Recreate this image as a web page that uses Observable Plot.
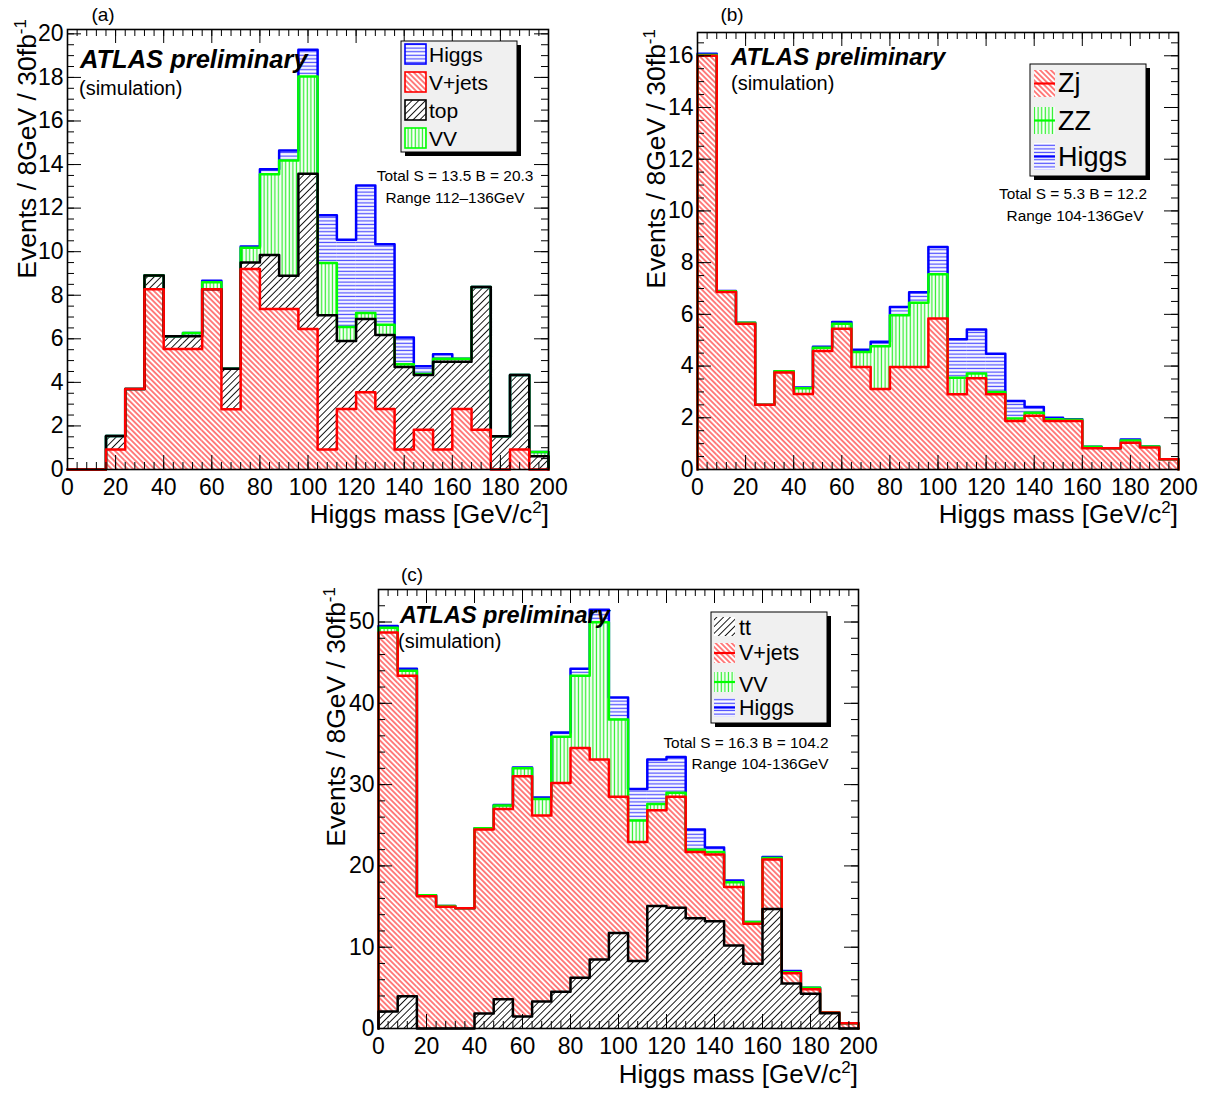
<!DOCTYPE html>
<html><head><meta charset="utf-8">
<script src="https://cdn.jsdelivr.net/npm/d3@7"></script>
<script src="https://cdn.jsdelivr.net/npm/@observablehq/plot@0.6"></script>
<style>
body{margin:0;background:#fff;}
#root{position:relative;width:1206px;height:1093px;overflow:hidden;font-family:"Liberation Sans",Arial,Helvetica,sans-serif;}
#overlay{position:absolute;left:0;top:0;pointer-events:none;}
</style></head>
<body><div id="root">
<svg id="overlay" width="1206" height="1093" xmlns="http://www.w3.org/2000/svg">
<defs>
<pattern id="pRed" patternUnits="userSpaceOnUse" width="3.8" height="3.8" patternTransform="rotate(-45)"><line x1="1.9" y1="0" x2="1.9" y2="3.8" stroke="#ff0000" stroke-width="1"/></pattern>
<pattern id="pRedC" patternUnits="userSpaceOnUse" width="3.8" height="3.8" patternTransform="rotate(-45)"><line x1="1.9" y1="0" x2="1.9" y2="3.8" stroke="#ff0000" stroke-width="1"/></pattern>
<pattern id="pBlack" patternUnits="userSpaceOnUse" width="4.8" height="4.8" patternTransform="rotate(45)"><line x1="2.4" y1="0" x2="2.4" y2="4.8" stroke="#000" stroke-width="0.9"/></pattern>
<pattern id="pGreen" patternUnits="userSpaceOnUse" width="3.6" height="3.6"><line x1="1.3" y1="0" x2="1.3" y2="3.6" stroke="#33ee33" stroke-width="1.3"/></pattern>
<pattern id="pBlue" patternUnits="userSpaceOnUse" width="3.6" height="3.6"><line x1="0" y1="1.3" x2="3.6" y2="1.3" stroke="#4f4fff" stroke-width="1.3"/></pattern>
</defs>
</svg>
</div>
<script>
// ---------- data ----------
const binLow = [0,8,16,24,32,40,48,56,64,72,80,88,96,104,112,120,128,136,144,152,160,168,176,184,192];
const binWidth = 8;
const xMax = 200;
const xMajor = [0,20,40,60,80,100,120,140,160,180,200];

// Panel (a)
const aVjets = [0,0,0.92,3.70,8.27,5.53,5.53,8.27,2.77,9.20,7.37,7.37,6.45,0.92,2.78,3.55,2.78,0.92,1.83,0.92,2.78,1.83,0,0.92,0];
const aTop   = [0,0,0.62,0,0.64,0.59,0.59,0,1.86,0.30,2.48,1.53,7.13,6.16,3.12,3.36,3.40,3.79,2.51,4.03,2.17,6.55,1.53,3.42,0.61];
const aVV    = [0,0,0,0,0,0,0.15,0.33,0,0.68,3.70,5.29,4.46,2.40,0.64,0.28,0.46,0.12,0.04,0.13,0.13,0,0,0,0.19];
const aHiggs = [0,0,0,0,0,0,0,0.07,0,0.06,0.23,0.46,1.23,2.19,4.01,5.85,3.70,1.23,0.36,0.21,0,0,0,0,0];
const aYMajor = [0,2,4,6,8,10,12,14,16,18,20];

// Panel (b)
const bZj    = [16.0,6.86,5.64,2.50,3.75,2.92,4.58,5.44,3.96,3.11,3.96,3.96,5.84,2.91,3.53,2.91,1.88,2.08,1.88,1.88,0.82,0.82,1.03,0.85,0.40];
const bZZ    = [0.03,0.03,0.04,0,0.05,0.22,0.13,0.20,0.58,1.66,2.01,2.49,1.71,0.64,0.18,0.09,0.09,0.11,0.06,0.04,0.06,0,0.09,0.04,0];
const bHiggs = [0.05,0.01,0,0,0,0.03,0.04,0.06,0.09,0.17,0.31,0.40,1.05,1.49,1.70,1.48,0.68,0.23,0.06,0.02,0,0,0.04,0,0];
const bYMajor = [0,2,4,6,8,10,12,14,16];

// Panel (c)
const cTT    = [2.09,3.98,0,0,0,1.85,3.61,1.48,3.33,4.52,6.24,8.50,11.74,8.29,15.07,14.86,13.55,13.20,10.20,7.96,14.70,5.54,4.27,1.89,0];
const cVjets = [46.61,39.42,16.26,14.98,14.78,22.62,23.39,29.55,22.87,25.68,28.26,24.60,16.76,14.66,11.78,13.64,8.15,8.20,7.20,4.94,6.10,1.27,0.57,0.08,0.66];
const cVV    = [0.60,0.60,0.12,0.09,0,0.16,0.42,0.97,2.04,5.70,8.90,16.86,9.50,2.65,0.75,0.50,0.30,0.30,0.60,0.20,0.18,0.10,0.16,0,0];
const cHiggs = [0.20,0.25,0,0,0,0,0.08,0.10,0.16,0.50,0.85,1.54,2.70,3.87,5.50,4.40,2.47,0.55,0.20,0,0.12,0.15,0,0,0];
const cYMajor = [0,10,20,30,40,50];

const FONT = "'Liberation Sans', Arial, Helvetica, sans-serif";
const root = document.getElementById("root");

function makePanel(cfg) {
  const {left, top, W, H, mL, mR, mT, mB, yMax, layers, yMajor, yMinorStep, lineW} = cfg;
  const fh = H - mT - mB, fw = W - mL - mR;
  const xMinor = d3.range(0, xMax + 0.001, 4);
  const yMinor = d3.range(0, yMax, yMinorStep);
  let lower = binLow.map(() => 0);
  const stack = layers.map(L => {
    const upper = lower.map((l, i) => l + L.values[i]);
    const rows = binLow.map((b, i) => ({x1: b, x2: b + binWidth, y1: lower[i], y2: upper[i]}))
      .filter(r => r.y2 > r.y1 + 1e-9);
    const pts = [{x: binLow[0], y: 0}, ...binLow.map((b, i) => ({x: b, y: upper[i]})),
      {x: xMax, y: upper[upper.length - 1]}, {x: xMax, y: 0}];
    lower = upper;
    return {L, rows, pts};
  });
  const marks = [];
  stack.forEach(s => marks.push(Plot.rect(s.rows, {x1: "x1", x2: "x2", y1: "y1", y2: "y2", fill: s.L.fill})));
  stack.slice().reverse().forEach(s => marks.push(Plot.line(s.pts, {x: "x", y: "y", curve: "step-after", stroke: s.L.stroke, strokeWidth: lineW})));
  // inward ticks on all four sides
  marks.push(Plot.tickX(xMinor, {x: d => d, insetTop: fh - 7, stroke: "#000"}));
  marks.push(Plot.tickX(xMajor, {x: d => d, insetTop: fh - 14, stroke: "#000"}));
  marks.push(Plot.tickX(xMinor, {x: d => d, insetBottom: fh - 7, stroke: "#000"}));
  marks.push(Plot.tickX(xMajor, {x: d => d, insetBottom: fh - 14, stroke: "#000"}));
  marks.push(Plot.tickY(yMinor, {y: d => d, insetRight: fw - 7, stroke: "#000"}));
  marks.push(Plot.tickY(yMajor, {y: d => d, insetRight: fw - 14, stroke: "#000"}));
  marks.push(Plot.tickY(yMinor, {y: d => d, insetLeft: fw - 7, stroke: "#000"}));
  marks.push(Plot.tickY(yMajor, {y: d => d, insetLeft: fw - 14, stroke: "#000"}));
  marks.push(Plot.axisX(xMajor, {tickSize: 0, tickPadding: 9, fontSize: 23, label: null}));
  marks.push(Plot.axisY(yMajor, {tickSize: 0, tickPadding: 4, fontSize: 23, label: null}));
  marks.push(Plot.frame({stroke: "#000", strokeWidth: 1.6}));
  const svg = Plot.plot({
    width: W, height: H,
    marginLeft: mL, marginRight: mR, marginTop: mT, marginBottom: mB,
    x: {domain: [0, xMax]},
    y: {domain: [0, yMax]},
    style: `font-family: ${FONT}; background: transparent; overflow: visible;`,
    marks
  });
  svg.style.position = "absolute";
  svg.style.left = left + "px";
  svg.style.top = top + "px";
  root.insertBefore(svg, document.getElementById("overlay"));
}

makePanel({left: 0, top: 0, W: 603, H: 540, mL: 67, mR: 55, mT: 29, mB: 71, yMax: 20.2,
  yMajor: aYMajor, yMinorStep: 0.5, lineW: 2.5,
  layers: [
    {values: aVjets, fill: "url(#pRed)", stroke: "#ff0000"},
    {values: aTop, fill: "url(#pBlack)", stroke: "#000000"},
    {values: aVV, fill: "url(#pGreen)", stroke: "#00ff00"},
    {values: aHiggs, fill: "url(#pBlue)", stroke: "#0000ff"}
  ]});
makePanel({left: 603, top: 0, W: 603, H: 540, mL: 94, mR: 28, mT: 32, mB: 71, yMax: 16.9,
  yMajor: bYMajor, yMinorStep: 0.5, lineW: 2.5,
  layers: [
    {values: bZj, fill: "url(#pRed)", stroke: "#ff0000"},
    {values: bZZ, fill: "url(#pGreen)", stroke: "#00ff00"},
    {values: bHiggs, fill: "url(#pBlue)", stroke: "#0000ff"}
  ]});
makePanel({left: 300, top: 545, W: 600, H: 548, mL: 78, mR: 42, mT: 44, mB: 65, yMax: 54,
  yMajor: cYMajor, yMinorStep: 2, lineW: 2.5,
  layers: [
    {values: cTT, fill: "url(#pBlack)", stroke: "#000000"},
    {values: cVjets, fill: "url(#pRedC)", stroke: "#ff0000"},
    {values: cVV, fill: "url(#pGreen)", stroke: "#00ff00"},
    {values: cHiggs, fill: "url(#pBlue)", stroke: "#0000ff"}
  ]});

// ---------- overlay texts & legends ----------
const ov = d3.select("#overlay").style("font-family", FONT);
function txt(x, y, s, size, opts = {}) {
  const t = ov.append("text").attr("x", x).attr("y", y).attr("font-size", size).text(s);
  if (opts.anchor) t.attr("text-anchor", opts.anchor);
  if (opts.bold) t.attr("font-weight", "bold");
  if (opts.italic) t.attr("font-style", "italic");
  if (opts.db) t.attr("dominant-baseline", opts.db);
  return t;
}
function xTitle(x, y) {
  const t = ov.append("text").attr("x", x).attr("y", y).attr("text-anchor", "end").attr("font-size", 26);
  t.append("tspan").text("Higgs mass [GeV/c");
  t.append("tspan").attr("dy", -10).attr("font-size", 17).text("2");
  t.append("tspan").attr("dy", 10).text("]");
}
function yTitle(x, y) {
  const t = ov.append("text").attr("transform", `translate(${x},${y}) rotate(-90)`).attr("text-anchor", "end").attr("font-size", 26.5);
  t.append("tspan").text("Events / 8GeV / 30fb");
  t.append("tspan").attr("dy", -10).attr("font-size", 17).text("-1");
}
function legend(box, entries, fontSize, withLine, withBorder) {
  ov.append("rect").attr("x", box.x + 4).attr("y", box.y + 4).attr("width", box.w).attr("height", box.h).attr("fill", "#000");
  ov.append("rect").attr("x", box.x).attr("y", box.y).attr("width", box.w).attr("height", box.h).attr("fill", "#f0f0f0").attr("stroke", "#000").attr("stroke-width", 1);
  entries.forEach(e => {
    ov.append("rect").attr("x", e.sx).attr("y", e.sy).attr("width", e.sw).attr("height", e.sh).attr("fill", "#fff");
    ov.append("rect").attr("x", e.sx).attr("y", e.sy).attr("width", e.sw).attr("height", e.sh).attr("fill", e.fill)
      .attr("stroke", withBorder ? e.stroke : "none").attr("stroke-width", 1.6);
    if (withLine && e.line !== false) ov.append("line").attr("x1", e.sx).attr("x2", e.sx + e.sw).attr("y1", e.sy + e.sh / 2).attr("y2", e.sy + e.sh / 2).attr("stroke", e.stroke).attr("stroke-width", 2.2);
    txt(e.tx, e.ty, e.label, fontSize, {db: "central"});
  });
}

// Panel (a)
txt(103, 21, "(a)", 19, {anchor: "middle"});
txt(80, 68, "ATLAS preliminary", 25.5, {bold: true, italic: true});
txt(79, 95, "(simulation)", 20);
txt(455, 181, "Total S = 13.5 B = 20.3", 15.4, {anchor: "middle"});
txt(455, 203, "Range 112\u2013136GeV", 15.4, {anchor: "middle"});
xTitle(549, 523);
yTitle(36, 19);
legend({x: 401, y: 41, w: 116, h: 111}, [
  {label: "Higgs", fill: "url(#pBlue)", stroke: "#0000ff", sx: 405, sy: 44, sw: 21, sh: 20, tx: 429, ty: 54},
  {label: "V+jets", fill: "url(#pRed)", stroke: "#ff0000", sx: 405, sy: 72, sw: 21, sh: 20, tx: 429, ty: 82},
  {label: "top", fill: "url(#pBlack)", stroke: "#000000", sx: 405, sy: 100, sw: 21, sh: 20, tx: 429, ty: 110},
  {label: "VV", fill: "url(#pGreen)", stroke: "#00ff00", sx: 405, sy: 128, sw: 21, sh: 20, tx: 429, ty: 138}
], 21, false, true);

// Panel (b)
txt(732, 21, "(b)", 19, {anchor: "middle"});
txt(731, 65, "ATLAS preliminary", 24, {bold: true, italic: true});
txt(731, 90, "(simulation)", 20);
txt(1073, 199, "Total S = 5.3 B = 12.2", 15.4, {anchor: "middle"});
txt(1075, 221, "Range 104-136GeV", 15.4, {anchor: "middle"});
xTitle(1178, 523);
yTitle(665, 29);
legend({x: 1030, y: 64, w: 116, h: 112}, [
  {label: "Zj", fill: "url(#pRed)", stroke: "#ff0000", sx: 1034, sy: 70, sw: 21, sh: 27, tx: 1058, ty: 83},
  {label: "ZZ", fill: "url(#pGreen)", stroke: "#00ff00", sx: 1034, sy: 107, sw: 21, sh: 27, tx: 1058, ty: 121},
  {label: "Higgs", fill: "url(#pBlue)", stroke: "#0000ff", sx: 1034, sy: 143, sw: 21, sh: 27, tx: 1058, ty: 157}
], 27, true, false);

// Panel (c)
txt(412, 581, "(c)", 19, {anchor: "middle"});
txt(400, 623, "ATLAS preliminary", 23.5, {bold: true, italic: true});
txt(398, 648, "(simulation)", 20);
txt(746, 748, "Total S = 16.3 B = 104.2", 15.4, {anchor: "middle"});
txt(760, 769, "Range 104-136GeV", 15.4, {anchor: "middle"});
xTitle(858, 1083);
yTitle(345, 587);
legend({x: 711, y: 612, w: 116, h: 111}, [
  {label: "tt", fill: "url(#pBlack)", stroke: "#000000", sx: 714, sy: 617, sw: 21, sh: 19, tx: 739, ty: 628, line: false},
  {label: "V+jets", fill: "url(#pRedC)", stroke: "#ff0000", sx: 714, sy: 643, sw: 21, sh: 20, tx: 739, ty: 653},
  {label: "VV", fill: "url(#pGreen)", stroke: "#00ff00", sx: 714, sy: 672, sw: 21, sh: 20, tx: 739, ty: 685},
  {label: "Higgs", fill: "url(#pBlue)", stroke: "#0000ff", sx: 714, sy: 698, sw: 21, sh: 19, tx: 739, ty: 708}
], 21.5, true, false);
</script>
</body></html>
